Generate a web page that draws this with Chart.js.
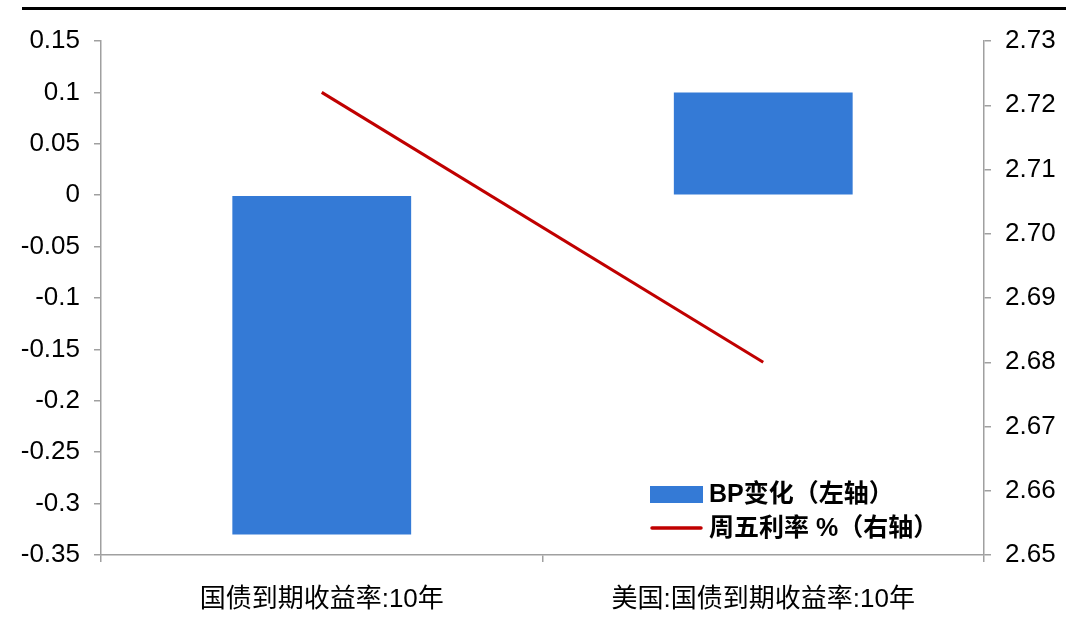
<!DOCTYPE html>
<html>
<head>
<meta charset="utf-8">
<script src="https://cdn.jsdelivr.net/npm/chart.js@4/dist/chart.umd.min.js"></script>
<style>
  html, body { margin:0; padding:0; background:#fff; }
  #wrap { position:relative; width:1066px; height:642px; }
  #topRule { position:absolute; left:22px; top:7px; width:1044px; height:3px; background:#000; }
</style>
</head>
<body>
<div id="wrap">
  <div id="topRule"></div>
  <canvas id="chart"></canvas>
</div>
<script>
// ========== Data ==========
const categories = ['国债到期收益率:10年', '美国:国债到期收益率:10年'];
const bpChange = [-0.33, 0.10];        // left axis
const fridayRate = [2.722, 2.680];     // right axis, %
const seriesLabels = ['BP变化（左轴）', '周五利率 %（右轴）'];

const FONT = '"Liberation Sans", Arial, "Noto Sans CJK SC", sans-serif';
Chart.defaults.font.family = FONT;
Chart.defaults.color = '#000';

// legend drawn inside the plot, bottom right
const innerLegend = {
  id:'innerLegend',
  afterDraw(chart){
    const ctx = chart.ctx;
    const bar = chart.data.datasets.find(d => d.type === 'bar');
    const line = chart.data.datasets.find(d => d.type === 'line');
    const x = 650, rows = [495, 529];
    ctx.save();
    ctx.font = 'bold 25px ' + FONT;
    ctx.textBaseline = 'middle';
    ctx.fillStyle = bar.backgroundColor;
    ctx.fillRect(x, rows[0] - 9, 53, 17);
    ctx.strokeStyle = line.borderColor;
    ctx.lineWidth = 3.5;
    ctx.lineCap = 'round';
    ctx.beginPath(); ctx.moveTo(x + 2, rows[1] - 1); ctx.lineTo(x + 51, rows[1] - 1); ctx.stroke();
    ctx.fillStyle = '#000';
    ctx.fillText(bar.label, x + 59, rows[0]);
    ctx.fillText(line.label, x + 59, rows[1]);
    ctx.restore();
  }
};

const axisColor = '#a0a0a0';

new Chart(document.getElementById('chart'), {
  type:'bar',
  data:{
    labels: categories,
    datasets:[
      { type:'line', label:seriesLabels[1], data:fridayRate, yAxisID:'y1',
        borderColor:'#C00000', borderWidth:3, pointRadius:0, tension:0, order:0 },
      { type:'bar', label:seriesLabels[0], data:bpChange, yAxisID:'y',
        backgroundColor:'#347AD6', borderWidth:0, barPercentage:0.405, categoryPercentage:1, order:1 }
    ]
  },
  options:{
    responsive:true, maintainAspectRatio:false, animation:false,
    layout:{ padding:{ top:41, left:0, right:0, bottom:0 } },
    plugins:{ legend:{ display:false }, tooltip:{ enabled:false } },
    scales:{
      x:{
        offset:true,
        grid:{ display:true, drawOnChartArea:false, drawTicks:true, tickLength:7, color:axisColor, lineWidth:1.5, offset:true },
        border:{ color:axisColor, width:1.5 },
        ticks:{ font:{ size:26 }, padding:22, maxRotation:0 },
        afterFit(s){ s.height = 87; }
      },
      y:{
        position:'left', min:-0.35, max:0.15,
        grid:{ drawOnChartArea:false, tickLength:7, color:axisColor, lineWidth:1.5 },
        border:{ color:axisColor, width:1.5 },
        ticks:{ stepSize:0.05, font:{ size:26 }, padding:14,
          callback:v => String(Number(v.toFixed(2))) },
        afterFit(s){ s.width = 101; }
      },
      y1:{
        position:'right', min:2.65, max:2.73,
        grid:{ drawOnChartArea:false, tickLength:7, color:axisColor, lineWidth:1.5 },
        border:{ color:axisColor, width:1.5 },
        ticks:{ stepSize:0.01, font:{ size:26 }, padding:14,
          callback:v => v.toFixed(2) },
        afterFit(s){ s.width = 82; }
      }
    }
  },
  plugins:[innerLegend]
});
</script>
</body>
</html>
